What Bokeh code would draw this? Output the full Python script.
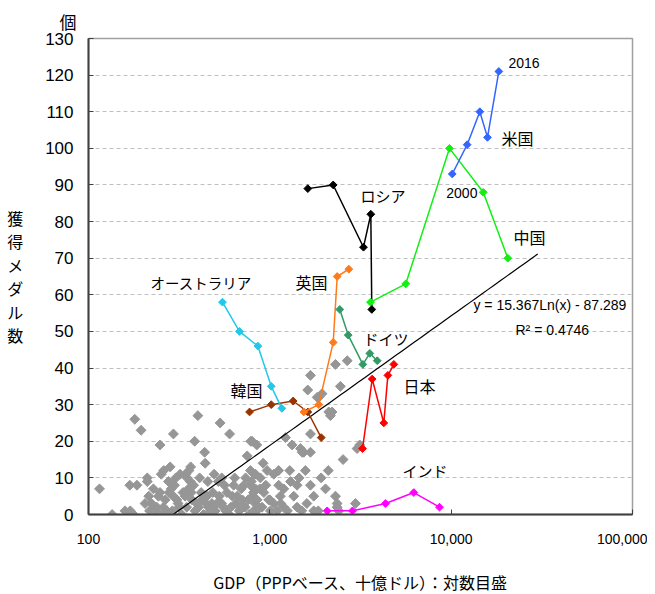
import numpy as np
from bokeh.plotting import figure
from bokeh.models import FixedTicker, Label, NumeralTickFormatter, Title
from bokeh.embed import file_html
from bokeh.resources import INLINE

# ---------------- data ----------------
years = [2000, 2004, 2008, 2012, 2016]

us_gdp = [10140, 12250, 14390, 15860, 18320]
us_medals = [93, 101, 110, 103, 121]
china_gdp = [3590, 5620, 9790, 15030, 20530]
china_medals = [58, 63, 100, 88, 70]
russia_gdp = [1620, 2236, 3284, 3605, 3650]
russia_medals = [89, 90, 73, 82, 56]
uk_gdp = [1540, 1862, 2236, 2352, 2727]
uk_medals = [28, 30, 47, 65, 67]
germany_gdp = [2431, 2705, 3258, 3559, 3911]
germany_medals = [56, 49, 41, 44, 42]
japan_gdp = [3245, 3668, 4250, 4476, 4830]
japan_medals = [18, 37, 25, 38, 41]
india_gdp = [2072, 2857, 4345, 6223, 8625]
india_medals = [1, 1, 3, 6, 2]
australia_gdp = [548, 680, 859, 1018, 1164]
australia_medals = [58, 50, 46, 35, 29]
korea_gdp = [773, 1018, 1345, 1620, 1920]
korea_medals = [28, 30, 31, 28, 21]

other_gdp = [115, 135, 159, 170, 177, 180, 195, 169, 185, 211, 211, 248, 294, 260, 282,
             401, 385, 532, 600, 437, 440, 366, 344, 350, 493, 543, 785, 750, 847, 820,
             735, 217, 233, 248, 270, 288, 223, 243, 248, 259, 276, 286, 294, 303, 307,
             316, 327, 341, 356, 364, 372, 387, 405, 422, 431, 450, 459, 479, 500, 526,
             543, 562, 571, 597, 622, 632, 650, 678, 695, 706, 731, 769, 802, 830, 847,
             813, 1675, 1618, 1862, 1941, 1824, 2449, 2113, 2158, 2203, 1675, 1675, 1476,
             1538, 1507, 1327, 1219, 798, 918, 782, 834, 887, 966, 1052, 1119, 1288, 1570,
             1919, 2535, 3027, 3133, 1119, 1194, 1413, 1675, 2028, 1746, 1355, 1143, 782,
             834, 927, 986, 1052, 851, 906, 815, 1007, 1096, 1194, 1413, 1746, 2350, 2301,
             2673, 2301, 2965, 2350,
             205, 215, 228, 238, 252, 265, 278, 290, 298, 312, 320, 332, 348, 358, 368,
             380, 395, 410, 418, 445, 455, 470, 485, 510, 520, 555, 580, 610, 640, 660,
             700, 720, 760, 790, 860, 880, 950, 1000, 1150, 1250, 1300, 1500, 1600, 1850,
             2100, 2400, 1450]
other_medals = [7, 0, 1, 1, 0, 26, 23, 8, 8, 10, 9, 19, 22, 12, 13,
                27, 20, 25, 22, 17, 14, 13, 11, 10, 11, 10, 20, 16, 19, 11,
                10, 1, 1, 0, 1, 0, 3, 5, 6, 2, 9, 7, 5, 10, 4,
                2, 0, 5, 7, 9, 4, 1, 2, 4, 0, 5, 2, 3, 1, 5,
                3, 8, 1, 0, 5, 8, 3, 1, 7, 4, 2, 0, 5, 3, 1,
                6, 38, 34, 32, 33, 32, 35, 28, 27, 28, 22, 17, 18,
                17, 17, 19, 21, 20, 14, 12, 11, 10, 12, 11, 12, 12, 12,
                10, 15, 18, 19, 8, 7, 8, 8, 7, 5, 5, 5, 8,
                7, 6, 4, 3, 4, 2, 1, 1, 1, 2, 2, 1, 2, 41,
                42, 5, 3, 3,
                3, 5, 7, 2, 11, 4, 6, 1, 8, 3, 11, 6, 2, 12, 6,
                8, 3, 10, 6, 3, 9, 1, 6, 3, 9, 2, 6, 2, 10, 5,
                2, 8, 4, 9, 2, 7, 8, 4, 3, 1, 9, 1, 3, 1,
                12, 1, 10]

trend_a = 15.367
trend_b = -87.289
trend_x_range = [293, 30000]

x_ticks = [100, 1000, 10000, 100000]
y_ticks = list(range(0, 131, 10))

# ---------------- figure ----------------
p = figure(frame_width=544, frame_height=476, x_axis_type="log",
           x_range=(100, 100000), y_range=(0, 130),
           output_backend="svg", toolbar_location=None,
           min_border_left=88, min_border_right=15, min_border_top=38,
           min_border_bottom=70, background_fill_color="white",
           border_fill_color="white")

JP = "Noto Sans CJK JP"
SANS = "Liberation Sans"

p.outline_line_color = "#A0A0A0"
p.outline_line_width = 1.5
p.xgrid.grid_line_color = None
p.ygrid.grid_line_color = "#C0C0C0"
p.ygrid.grid_line_dash = "4 3"
p.ygrid.grid_line_width = 1

p.xaxis.ticker = FixedTicker(ticks=x_ticks)
p.xaxis.formatter = NumeralTickFormatter(format="0,0")
p.yaxis.ticker = FixedTicker(ticks=y_ticks)
for ax in (p.xaxis[0], p.yaxis[0]):
    ax.axis_line_color = "#404040"
    ax.axis_line_width = 2
    ax.major_tick_in = 5
    ax.major_tick_out = 0
    ax.major_tick_line_color = "#404040"
    ax.minor_tick_line_color = None
    ax.major_label_text_font = SANS
    ax.major_label_text_color = "black"
    ax.axis_label_text_font = JP
    ax.axis_label_text_font_style = "normal"
    ax.axis_label_text_color = "black"
p.xaxis.major_label_text_font_size = "14px"
p.xaxis.major_label_standoff = 19
p.yaxis.major_label_text_font_size = "17px"
p.yaxis.major_label_standoff = 15

p.xaxis.axis_label = "GDP（PPPベース、十億ドル）：対数目盛"
p.xaxis.axis_label_text_font_size = "16px"
p.xaxis.axis_label_standoff = 23

p.yaxis.axis_label = "獲\n得\nメ\nダ\nル\n数"
p.yaxis.axis_label_orientation = "horizontal"
p.yaxis.axis_label_text_font_size = "16px"
p.yaxis.axis_label_text_line_height = 0.98
p.yaxis.axis_label_standoff = 19

p.add_layout(Title(text="個", align="left", offset=-29, text_font=JP,
                   text_font_size="17px", text_font_style="normal",
                   text_color="black", standoff=9), "above")

# other countries
p.scatter(other_gdp, other_medals, marker="square", size=7, angle=np.pi / 4,
          fill_color="#969696", line_color="#969696")

# trend line
tx = np.geomspace(trend_x_range[0], trend_x_range[1], 60)
ty = trend_a * np.log(tx) + trend_b
p.line(tx, ty, line_color="black", line_width=1.2)

series = [
    (korea_gdp, korea_medals, "#993300"),
    (australia_gdp, australia_medals, "#22C8E8"),
    (uk_gdp, uk_medals, "#FF7A1A"),
    (germany_gdp, germany_medals, "#339966"),
    (japan_gdp, japan_medals, "#FF0000"),
    (india_gdp, india_medals, "#FF00FF"),
    (russia_gdp, russia_medals, "#000000"),
    (china_gdp, china_medals, "#11F011"),
    (us_gdp, us_medals, "#3366FF"),
]
for gx, gy, col in series:
    p.line(gx, gy, line_color=col, line_width=1.5)
    p.scatter(gx, gy, marker="square", size=5.5, angle=np.pi / 4,
              fill_color=col, line_color=col)

def add_label(text, x, y, size, font, align="left", baseline="middle"):
    p.add_layout(Label(x=x, y=y, text=text, text_font=font,
                       text_font_size=f"{size}px", text_align=align,
                       text_baseline=baseline, text_color="black"))

labels = [
    ("2016", 20700, 123.2, 14, SANS, "left"),
    ("米国", 18970, 102.9, 16, JP, "left"),
    ("2000", 13960, 87.9, 14, SANS, "right"),
    ("ロシア", 3162, 87.1, 15, JP, "left"),
    ("中国", 22080, 75.9, 16, JP, "left"),
    ("オーストラリア", 220, 63.4, 14.5, JP, "left"),
    ("英国", 1385, 63.4, 16, JP, "left"),
    ("ドイツ", 3286, 48.1, 15, JP, "left"),
    ("日本", 5458, 35.0, 16, JP, "left"),
    ("インド", 5395, 12.0, 15, JP, "left"),
    ("韓国", 607, 33.9, 16, JP, "left"),
    ("y = 15.367Ln(x) - 87.289", 13270, 57.1, 14, SANS, "left"),
    ("R² = 0.4746", 22630, 50.5, 14, SANS, "left"),
]
for t, x, y, s, f, a in labels:
    add_label(t, x, y, s, f, a)

open("out.html", "w").write(file_html(p, INLINE))
